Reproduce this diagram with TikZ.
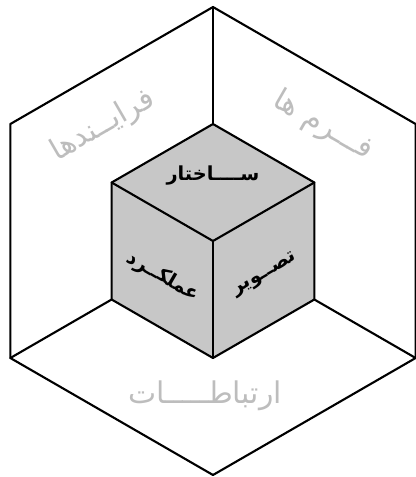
\documentclass[tikz,border=0pt]{standalone}
\usepackage{fontspec}
\usepackage{tkz-euclide}
\newfontfamily\arabicfont[Script=Arabic]{DejaVu Sans}
\TeXXeTstate=1
\definecolor{CubeClr}{rgb}{0.78,0.78,0.78}
\definecolor{WallTxtClr}{rgb}{0.74,0.74,0.74}
\tikzset{
  walltxt/.style={text=WallTxtClr,font=\arabicfont\fontsize{17}{20}\selectfont},
  cubetxt/.style={text=black,font=\arabicfont\bfseries\fontsize{11}{13}\selectfont}
}

\begin{document}
\begin{tikzpicture}
\useasboundingbox (-4.26,-4.72) rectangle (4.04,4.82);
\tkzSetUpLine[line width=1.2pt,color=black]

% outer room
\tkzDefPoints{0/0/O,0/4.68/T,-4.053/2.34/UL,-4.053/-2.34/LL,0/-4.68/B,4.053/-2.34/LR,4.053/2.34/UR}
% cube
\tkzDefPoints{0/2.34/t,-2.027/1.17/ul,-2.027/-1.17/ll,0/-2.34/b,2.027/-1.17/lr,2.027/1.17/ur}

\tkzFillPolygon[fill=CubeClr](t,ul,ll,b,lr,ur)

\tkzDrawPolygon(T,UL,LL,B,LR,UR)
\tkzDrawSegments(T,t LL,ll LR,lr)
\tkzDrawPolygon(t,ul,ll,b,lr,ur)
\tkzDrawSegments(O,ul O,ur O,b)

% walls
\node[walltxt,rotate=30] (proc) at (-2.2,2.3) {\beginR فرایــندها\endR};
\node[walltxt,rotate=-30] (form) at (2.2,2.3) {\beginR فـــرم ها\endR};
\node[walltxt] (comm) at (-0.16,-3.1) {\beginR ارتباطـــــات\endR};

% cube faces
\node[cubetxt] (struct) at (0,1.3) {\beginR ســــاختار\endR};
\node[cubetxt,rotate=-30] (func) at (-1.0,-0.72) {\beginR عملکــرد\endR};
\node[cubetxt,rotate=30] (image) at (1.04,-0.68) {\beginR تصــویر\endR};

\end{tikzpicture}
\end{document}
